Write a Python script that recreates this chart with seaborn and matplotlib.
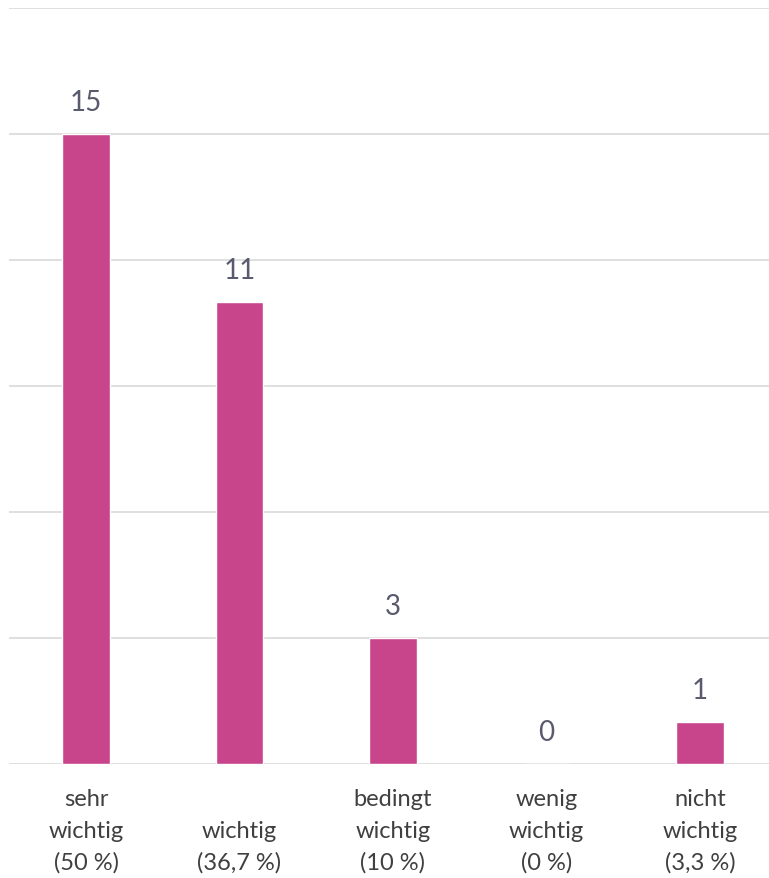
import seaborn as sns
from matplotlib import pyplot as plt
import pandas as pd

categories = ["sehr\nwichtig\n(50 %)", "\nwichtig\n(36,7 %)", "bedingt\nwichtig\n(10 %)",
              "wenig\nwichtig\n(0 %)", "nicht\nwichtig\n(3,3 %)"]
counts = [15, 11, 3, 0, 1]

df = pd.DataFrame({"kategorie": categories, "anzahl": counts})

sns.set_style("white")
plt.rcParams['font.family'] = ['Lato', 'DejaVu Sans']

fig = plt.figure(figsize=(7.69, 8.79), dpi=100)
ax = fig.add_axes([9.25 / 769, 114 / 879, 767.5 / 769, 756 / 879])

sns.barplot(data=df, x="kategorie", y="anzahl", color="#C8458C", width=0.31,
            saturation=1, ax=ax)

# Beschriftung der Balken
ax.bar_label(ax.containers[0], padding=14, fontsize=20, color="#5a5a6e")

ax.set_ylim(0, 18)
ax.set_xlim(-0.5, 4.5)
ax.set_yticks(range(0, 19, 3))
ax.yaxis.grid(True, color="#D9D9D9", linewidth=1.2)
ax.set_axisbelow(True)
for s in ax.spines.values():
    s.set_visible(False)
ax.tick_params(axis="y", left=False, labelleft=False)
ax.tick_params(axis="x", bottom=False, pad=14, labelsize=17, labelcolor="#404040")
for lbl in ax.get_xticklabels():
    lbl.set_linespacing(1.6)
ax.set_xlabel("")
ax.set_ylabel("")

plt.savefig("out.png", dpi=100)
